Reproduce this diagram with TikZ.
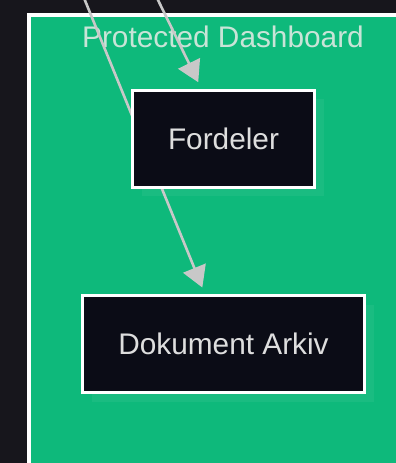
\documentclass[tikz,border=0pt]{standalone}
\usepackage{fontspec}
\setmainfont{Liberation Sans}
\usetikzlibrary{arrows.meta,shadows,calc}

\definecolor{pagebg}{RGB}{23,22,28}
\definecolor{clustergreen}{RGB}{14,185,123}
\definecolor{boxfill}{RGB}{11,12,22}
\definecolor{edgegray}{RGB}{200,200,200}
\definecolor{titlegray}{RGB}{200,228,215}
\definecolor{labelgray}{RGB}{222,222,222}

\pgfdeclarelayer{back}
\pgfdeclarelayer{edges}
\pgfsetlayers{back,edges,main}

\begin{document}
\begin{tikzpicture}
[
    x=1pt, y=-1pt,
    cluster/.style={draw=white, line width=3.5pt, fill=clustergreen},
    service/.style={draw=white, line width=3pt, fill=boxfill, text=labelgray,
        minimum height=97pt, inner sep=0pt, font=\fontsize{29.8}{34}\selectfont,
        drop shadow={shadow xshift=9pt, shadow yshift=-9pt, fill=white, opacity=0.05}},
    flow/.style={draw=edgegray, line width=2.6pt,
        -{Triangle[length=21pt, width=24pt]}, shorten >=7pt},
]
\useasboundingbox (0,0) rectangle (396,463);

\begin{pgfonlayer}{back}
\fill[pagebg] (0,0) rectangle (396,463);
\draw[cluster] (29,15) rectangle (420,490);
\node[anchor=base, text=titlegray, font=\fontsize{29.8}{34}\selectfont, inner sep=0pt]
    (title) at (223,47.5) {Protected Dashboard};
\end{pgfonlayer}

% nodes
\node[service, minimum width=182pt] (fordeler) at (223.5,138.5) {Fordeler};
\node[service, minimum width=282pt] (arkiv) at (223.5,344) {Dokument Arkiv};

% sources above the visible part
\coordinate (src fordeler) at (157,-2);
\coordinate (src arkiv) at (84,-2);

% edges
\begin{pgfonlayer}{edges}
\draw[flow] (src fordeler) -- ($(fordeler.north west)!0.38!(fordeler.north east)$);
\draw[flow] (src arkiv) -- ($(arkiv.north west)!0.435!(arkiv.north east)$);
\end{pgfonlayer}
\end{tikzpicture}
\end{document}
